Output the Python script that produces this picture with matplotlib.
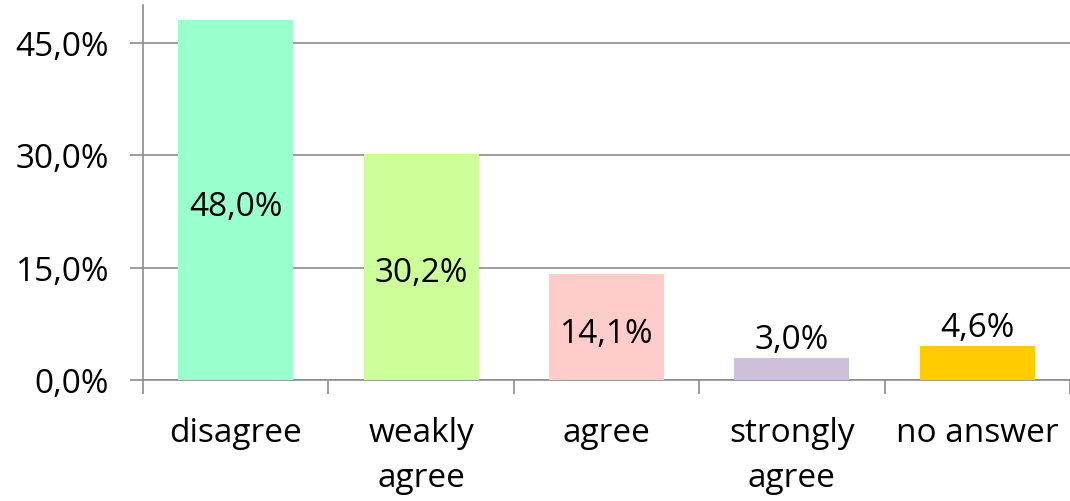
import matplotlib
matplotlib.use("Agg")
import matplotlib.pyplot as plt
from matplotlib.ticker import FuncFormatter, FixedLocator

categories = ["disagree", "weakly\nagree", "agree", "strongly\nagree", "no answer"]
values = [48.0, 30.2, 14.1, 3.0, 4.6]
colors = ["#99FFCC", "#CCFF99", "#FFCCCC", "#CCC0DA", "#FFCC00"]
yticks = [0, 15, 30, 45]

plt.rcParams['font.family'] = ['Open Sans', 'DejaVu Sans']
FS = 24

fig = plt.figure(figsize=(10.7, 5.02), dpi=100)
ax = fig.add_axes([143/1070, 1-381/502, 1-143/1070, (381-6)/502])

x = list(range(len(categories)))
ax.bar(x, values, width=0.62, color=colors, zorder=3)
ax.set_xlim(-0.5, len(categories)-0.5)
ax.set_ylim(0, 50)

gc = "#8C8C8C"
ax.set_yticks(yticks)
ax.yaxis.set_major_formatter(FuncFormatter(lambda v, p: f"{v:.1f}%".replace(".", ",")))
ax.grid(axis='y', color=gc, linewidth=1.2, zorder=0)
ax.tick_params(axis='y', length=9.5, width=1.2, color=gc, labelsize=FS, pad=15)

ax.set_xticks(x)
ax.set_xticklabels(categories, fontsize=FS, linespacing=1.47, va='top')
ax.tick_params(axis='x', which='major', length=0, pad=26)
ax.xaxis.set_minor_locator(FixedLocator([i - 0.5 for i in range(len(categories)+1)]))
ax.tick_params(axis='x', which='minor', length=10, width=1.2, color=gc)

for s in ['top', 'right']:
    ax.spines[s].set_visible(False)
for s in ['left', 'bottom']:
    ax.spines[s].set_color(gc)
    ax.spines[s].set_linewidth(1.2)

for xi, v in zip(x, values):
    lab = f"{v:.1f}%".replace(".", ",")
    if v > 10:
        ax.annotate(lab, (xi, v/2), xytext=(0, -4.5), textcoords='offset points',
                    ha='center', va='center', fontsize=FS, zorder=4)
    else:
        ax.annotate(lab, (xi, v), xytext=(0, 1), textcoords='offset points',
                    ha='center', va='bottom', fontsize=FS, zorder=4)

fig.savefig("out.png", dpi=100)
